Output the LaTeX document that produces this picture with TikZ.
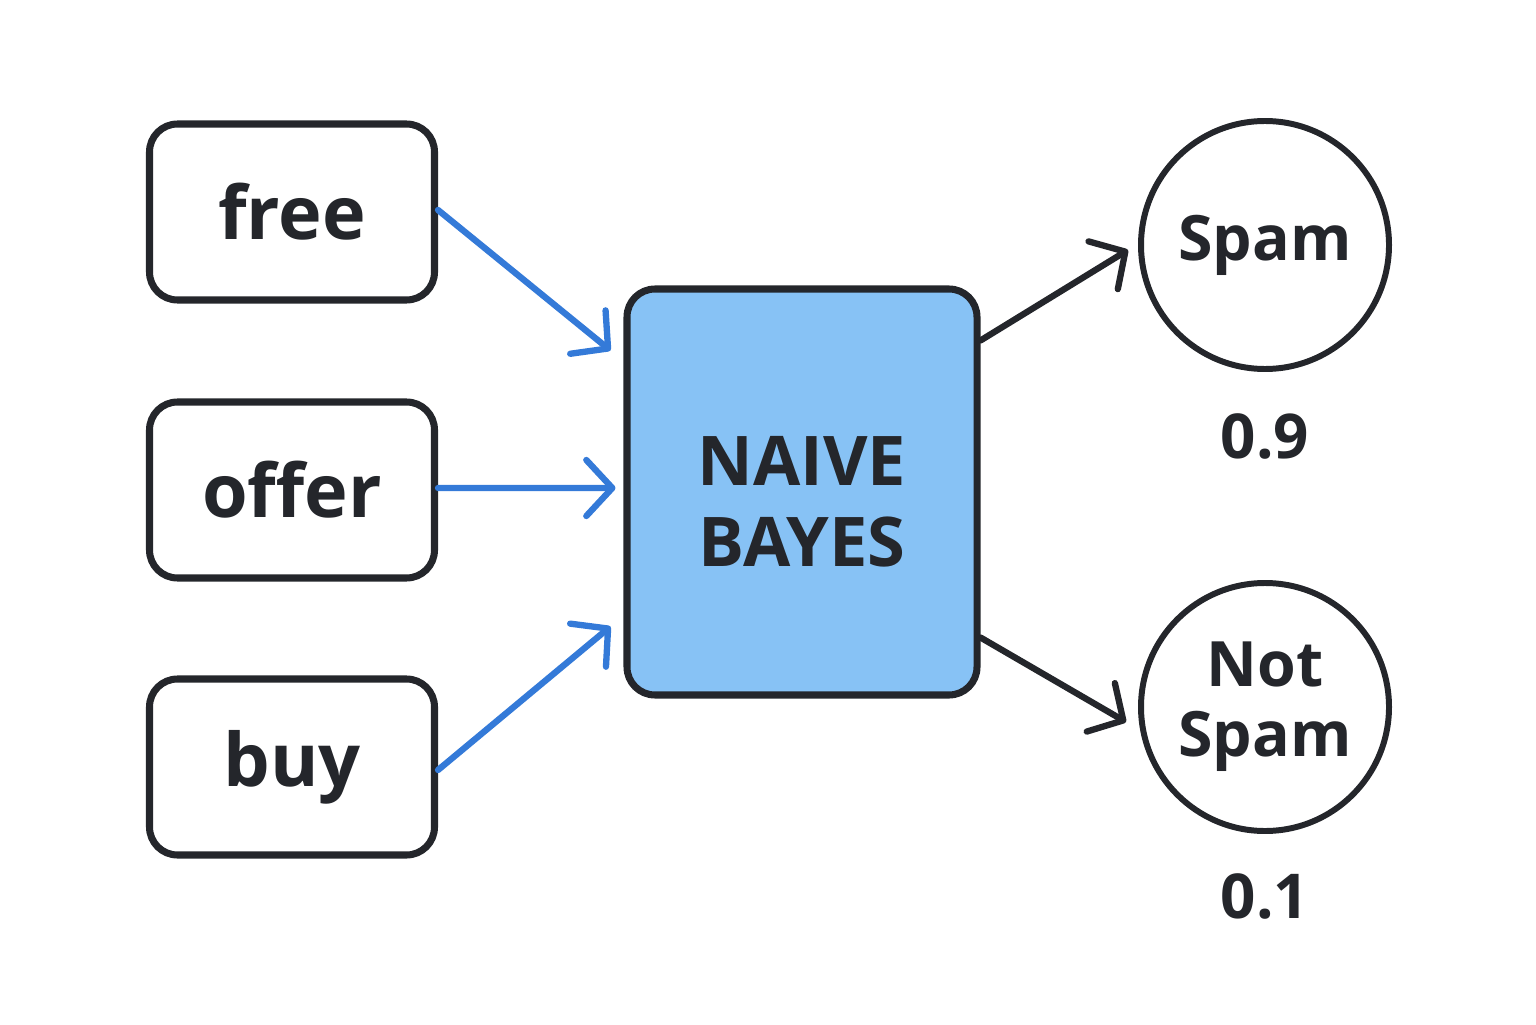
\documentclass[tikz,border=0pt]{standalone}
\usepackage{fontspec}
\setmainfont{Open Sans}
\usetikzlibrary{arrows.meta,positioning,calc}
\definecolor{inkdark}{RGB}{36,38,43}
\definecolor{edgeblue}{RGB}{52,122,216}
\definecolor{bayesblue}{RGB}{135,194,245}

\begin{document}
\begin{tikzpicture}[
    x=1cm, y=1cm,
    word/.style={rectangle, draw=inkdark, line width=2pt, rounded corners=0.28cm, fill=white,
                 minimum width=2.85cm, minimum height=1.76cm, text=inkdark, font=\fontsize{21}{24}\selectfont\bfseries},
    classbox/.style={rectangle, draw=inkdark, line width=2pt, rounded corners=0.28cm, fill=bayesblue,
                 minimum width=3.5cm, minimum height=4.06cm, text=inkdark, align=center, text height=1.49cm,
                 font=\fontsize{19.5}{23}\selectfont\bfseries},
    outcome/.style={circle, draw=inkdark, line width=1.7pt, minimum size=2.48cm, inner sep=0pt,
                 text=inkdark, align=center, font=\fontsize{17.8}{20}\selectfont\bfseries},
    prob/.style={text=inkdark, font=\fontsize{17.6}{20}\selectfont\bfseries},
    feed/.style={-{Straight Barb[round, length=0.26cm, width=0.56cm]}, edgeblue, line width=1.8pt, line cap=round},
    vote/.style={-{Straight Barb[round, length=0.26cm, width=0.56cm]}, inkdark, line width=1.8pt, line cap=round}
]

\useasboundingbox (0,0) rectangle (15.36,10.24);

% word features
\node[word] (free) at (2.92, 8.12) {free};
\node[word] (offer) at (2.92, 5.34) {offer};
\node[word] (buy) at (2.92, 2.57) {buy};

% classifier
\node[classbox] (nb) at (8.02, 5.32) {NAIVE\\BAYES};

% classes
\node[outcome] (spam) at (12.65, 7.79) {Spam};
\node[outcome] (notspam) at (12.65, 3.17) {Not\\Spam};

% probabilities
\node[prob, below=0.29cm of spam] (pspam) {0.9};
\node[prob, below=0.27cm of notspam] (pnot) {0.1};

% inputs into the classifier
\draw[feed] ([yshift=0.02cm]free.east) -- ([shift={(-0.13,-0.65)}]nb.north west);
\draw[feed] ([yshift=0.02cm]offer.east) -- ([xshift=-0.08cm, yshift=0.04cm]nb.west);
\draw[feed] ([yshift=-0.03cm]buy.east) -- ([shift={(-0.13,0.72)}]nb.south west);

% outputs
\draw[vote] ([yshift=-0.55cm]nb.north east) -- ([xshift=-0.1cm, yshift=-0.05cm]spam.west);
\draw[vote] ([yshift=0.61cm]nb.south east) -- ([xshift=-0.12cm, yshift=-0.15cm]notspam.west);

\end{tikzpicture}
\end{document}
